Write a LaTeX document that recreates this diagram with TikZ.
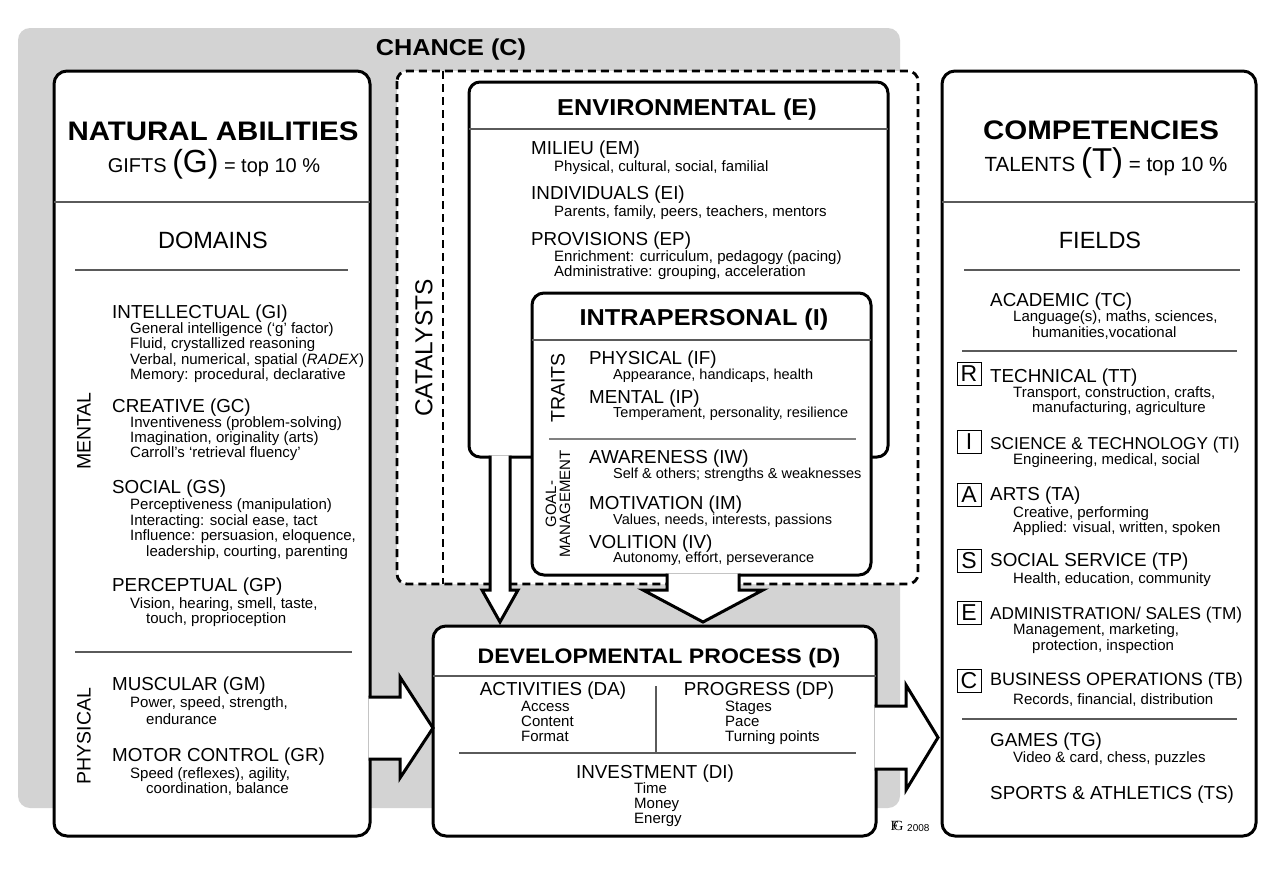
\documentclass[tikz,border=0pt]{standalone}
\usepackage{fontspec}
\usepackage{graphicx}
\setmainfont{Liberation Sans}
\newfontfamily\monofont{Liberation Serif}
\definecolor{chance}{RGB}{211,211,211}
\definecolor{divgray}{RGB}{90,90,90}
\newcommand\wideT[2]{{\fontsize{#1}{#1}\selectfont\scalebox{1.1}[1]{#2}}}
\begin{document}
\begin{tikzpicture}[x=1pt,y=-1pt,
 box/.style={draw=black,line width=3pt,fill=white},
 dashbox/.style={draw=black,line width=2.8pt,dash pattern=on 8pt off 5pt},
 div/.style={draw=divgray,line width=1.3pt},
 arr/.style={draw=black,line width=3pt,line join=miter,miter limit=10},
 ttl/.style={anchor=base,inner sep=0pt,font=\bfseries},
 hd/.style={anchor=base west,inner sep=0pt,font=\fontsize{18.8}{20}\selectfont},
 sb/.style={anchor=base west,inner sep=0pt,font=\fontsize{15}{16}\selectfont},
 isb/.style={anchor=base west,inner sep=0pt,font=\fontsize{14.5}{16}\selectfont},
 vt/.style={rotate=90,inner sep=0pt,anchor=center},
 lbox/.style={draw=black,line width=1pt,minimum width=24pt,minimum height=23pt,inner sep=0pt,font=\fontsize{23}{23}\selectfont},
]
\useasboundingbox (0,0) rectangle (1279,868);
\fill[chance, rounded corners=12pt] (18,28) rectangle (900,808);
\node[ttl] (chance) at (451,55) {\wideT{23}{CHANCE (C)}};

% catalysts
\draw[dashbox, fill=white, rounded corners=10pt] (397,71) rectangle (918,584);
\draw[dashbox] (443,71) -- (443,584);
\node[vt, font=\fontsize{24.5}{24.5}\selectfont] (cat) at (424,348) {CATALYSTS};

% environment and intrapersonal
\draw[box, rounded corners=11pt] (469,82) rectangle (888,457);
\draw[box, rounded corners=12pt] (532,293) rectangle (871,575);

% main boxes
\draw[box, rounded corners=13pt] (54,71) rectangle (370,836);
\draw[box, rounded corners=13pt] (942,71) rectangle (1256,836);
\draw[box, rounded corners=13pt] (433,626) rectangle (876,836);

% arrows
\fill[white] (490,455.5) -- (490,590) -- (482,590) -- (500,622) -- (518,590) -- (510,590) -- (510,455.5) -- cycle;
\draw[arr] (490,455.5) -- (490,590) -- (482,590) -- (500,622) -- (518,590) -- (510,590) -- (510,455.5);
\fill[white] (667,573.5) -- (667,590) -- (643,590) -- (703,622) -- (763,590) -- (739,590) -- (739,573.5) -- cycle;
\draw[arr] (667,573.5) -- (667,590) -- (643,590) -- (703,622) -- (763,590) -- (739,590) -- (739,573.5);
\fill[white] (368.5,697) -- (400,697) -- (400,677) -- (433,728) -- (400,778) -- (400,759) -- (368.5,759) -- cycle;
\draw[arr] (368.5,697) -- (400,697) -- (400,677) -- (433,728) -- (400,778) -- (400,759) -- (368.5,759);
\fill[white] (874.5,706) -- (906,706) -- (906,685) -- (938,737.5) -- (906,790) -- (906,769) -- (874.5,769) -- cycle;
\draw[arr] (874.5,706) -- (906,706) -- (906,685) -- (938,737.5) -- (906,790) -- (906,769) -- (874.5,769);

% dividers
\draw[div] (54,202) -- (370,202);
\draw[div] (75,270) -- (348,270);
\draw[div] (75,652) -- (352,652);
\draw[div] (942,202) -- (1256,202);
\draw[div] (964,270) -- (1240,270);
\draw[div] (962,351) -- (1237,351);
\draw[div] (962,719) -- (1237,719);
\draw[div] (469,129) -- (888,129);
\draw[div] (532,340) -- (871,340);
\draw[draw=gray, line width=1.8pt] (549,439) -- (856,439);
\draw[div] (433,676) -- (876,676);
\draw[div] (656,686) -- (656,752);
\draw[div] (459,753) -- (856,753);

% left panel
\node[ttl] (na) at (213,140) {\wideT{26.8}{NATURAL ABILITIES}};
\node[anchor=base, inner sep=0pt] (gifts) at (214,172) {\fontsize{20}{20}\selectfont GIFTS {\fontsize{32}{32}\selectfont(G)} = top 10 \%};
\node[anchor=base, inner sep=0pt, font=\fontsize{23.5}{24}\selectfont] (dom) at (213,248) {DOMAINS};
\node[vt, font=\fontsize{19.5}{20}\selectfont] (mental) at (84,431) {MENTAL};
\node[vt, font=\fontsize{19.5}{20}\selectfont] (physical) at (84,736) {PHYSICAL};
\node[hd] (gi) at (112,318) {INTELLECTUAL (GI)};
\node[sb] (gi1) at (130,333) {General intelligence (‘g’ factor)};
\node[sb] (gi2) at (130,348) {Fluid, crystallized reasoning};
\node[sb] (gi3) at (130,364) {Verbal, numerical, spatial (\textit{RADEX})};
\node[sb] (gi4) at (130,379) {Memory: procedural, declarative};
\node[hd] (gc) at (112,412) {CREATIVE (GC)};
\node[sb] (gc1) at (130,427) {Inventiveness (problem-solving)};
\node[sb] (gc2) at (130,442) {Imagination, originality (arts)};
\node[sb] (gc3) at (130,457) {Carroll’s ‘retrieval fluency’};
\node[hd] (gs) at (112,493) {SOCIAL (GS)};
\node[sb] (gs1) at (130,509) {Perceptiveness (manipulation)};
\node[sb] (gs2) at (130,525) {Interacting: social ease, tact};
\node[sb] (gs3) at (130,540) {Influence: persuasion, eloquence,};
\node[sb] (gs4) at (146,556) {leadership, courting, parenting};
\node[hd] (gp) at (112,591) {PERCEPTUAL (GP)};
\node[sb] (gp1) at (130,608) {Vision, hearing, smell, taste,};
\node[sb] (gp2) at (146,623) {touch, proprioception};
\node[hd] (gm) at (112,690) {MUSCULAR (GM)};
\node[sb] (gm1) at (130,707) {Power, speed, strength,};
\node[sb] (gm2) at (146,724) {endurance};
\node[hd] (gr) at (112,761) {MOTOR CONTROL (GR)};
\node[sb] (gr1) at (130,778) {Speed (reflexes), agility,};
\node[sb] (gr2) at (146,793) {coordination, balance};

% environmental
\node[ttl] (env) at (687,115) {\wideT{23}{ENVIRONMENTAL (E)}};
\node[hd] (em) at (531,154) {MILIEU (EM)};
\node[sb] (em1) at (554,171) {Physical, cultural, social, familial};
\node[hd] (ei) at (531,199) {INDIVIDUALS (EI)};
\node[sb] (ei1) at (554,216) {Parents, family, peers, teachers, mentors};
\node[hd] (ep) at (531,245) {PROVISIONS (EP)};
\node[sb] (ep1) at (554,261) {Enrichment: curriculum, pedagogy (pacing)};
\node[sb] (ep2) at (554,276) {Administrative: grouping, acceleration};

% intrapersonal
\node[ttl] (intra) at (704,325) {\wideT{23}{INTRAPERSONAL (I)}};
\node[vt, font=\fontsize{19.5}{20}\selectfont] (traits) at (558,388) {TRAITS};
\node[vt, align=center, font=\fontsize{15}{14}\selectfont] (goal) at (558,504) {GOAL-\\MANAGEMENT};
\node[hd] (if) at (589,364) {PHYSICAL (IF)};
\node[isb] (if1) at (613,379) {Appearance, handicaps, health};
\node[hd] (ip) at (589,403) {MENTAL (IP)};
\node[isb] (ip1) at (613,417) {Temperament, personality, resilience};
\node[hd] (iw) at (589,463) {AWARENESS (IW)};
\node[isb] (iw1) at (613,478) {Self \& others; strengths \& weaknesses};
\node[hd] (im) at (589,509) {MOTIVATION (IM)};
\node[isb] (im1) at (613,524) {Values, needs, interests, passions};
\node[hd] (iv) at (589,548) {VOLITION (IV)};
\node[isb] (iv1) at (613,562) {Autonomy, effort, perseverance};

% developmental
\node[ttl] (dev) at (659,663) {\wideT{21}{DEVELOPMENTAL PROCESS (D)}};
\node[hd, anchor=base] (da) at (553,695) {ACTIVITIES (DA)};
\node[sb] (da1) at (521,711) {Access};
\node[sb] (da2) at (521,726) {Content};
\node[sb] (da3) at (521,741) {Format};
\node[hd, anchor=base] (dp) at (759,695) {PROGRESS (DP)};
\node[sb] (dp1) at (725,711) {Stages};
\node[sb] (dp2) at (725,726) {Pace};
\node[sb] (dp3) at (725,741) {Turning points};
\node[hd, anchor=base] (di) at (655,778) {INVESTMENT (DI)};
\node[sb] (di1) at (634,793) {Time};
\node[sb] (di2) at (634,808) {Money};
\node[sb] (di3) at (634,823) {Energy};

% right panel
\node[ttl] (comp) at (1101,139) {\wideT{26.8}{COMPETENCIES}};
\node[anchor=base, inner sep=0pt] (tal) at (1106,171) {\fontsize{20.5}{20}\selectfont TALENTS {\fontsize{33}{33}\selectfont(T)} = top 10 \%};
\node[anchor=base, inner sep=0pt, font=\fontsize{23.5}{24}\selectfont] (fld) at (1100,248) {FIELDS};
\node[hd] (tc) at (990,306) {ACADEMIC (TC)};
\node[sb] (tc1) at (1013,321) {Language(s), maths, sciences,};
\node[sb] (tc2) at (1032,337) {humanities,vocational};
\node[lbox] (lr) at (969,374) {R};
\node[hd] (tt) at (990,382) {TECHNICAL (TT)};
\node[sb] (tt1) at (1013,397) {Transport, construction, crafts,};
\node[sb] (tt2) at (1032,412) {manufacturing, agriculture};
\node[lbox] (li) at (969,442) {I};
\node[hd, font=\fontsize{17.2}{18}\selectfont] (ti) at (990,449) {SCIENCE \& TECHNOLOGY (TI)};
\node[sb] (ti1) at (1013,464) {Engineering, medical, social};
\node[lbox] (la) at (969,494.5) {A};
\node[hd] (ta) at (990,500) {ARTS (TA)};
\node[sb] (ta1) at (1013,517) {Creative, performing};
\node[sb] (ta2) at (1013,532) {Applied: visual, written, spoken};
\node[lbox] (ls) at (969,560.5) {S};
\node[hd] (tp) at (990,566) {SOCIAL SERVICE (TP)};
\node[sb] (tp1) at (1013,583) {Health, education, community};
\node[lbox] (le) at (969,613) {E};
\node[hd, font=\fontsize{17.2}{18}\selectfont] (tm) at (990,619) {ADMINISTRATION/ SALES (TM)};
\node[sb] (tm1) at (1013,634) {Management, marketing,};
\node[sb] (tm2) at (1032,650) {protection, inspection};
\node[lbox] (lc) at (969,681) {C};
\node[hd, font=\fontsize{18}{18}\selectfont] (tb) at (990,685) {BUSINESS OPERATIONS (TB)};
\node[sb] (tb1) at (1013,704) {Records, financial, distribution};
\node[hd] (tg) at (990,746) {GAMES (TG)};
\node[sb] (tg1) at (1013,762) {Video \& card, chess, puzzles};
\node[hd] (ts) at (990,799) {SPORTS \& ATHLETICS (TS)};

% copyright
\node[inner sep=0pt, font=\monofont\fontsize{14}{14}\selectfont] (fg) at (897,826) {F\kern-5pt G};
\node[anchor=west, inner sep=0pt, font=\fontsize{10}{10}\selectfont] (yr) at (907,828) {2008};
\end{tikzpicture}
\end{document}
